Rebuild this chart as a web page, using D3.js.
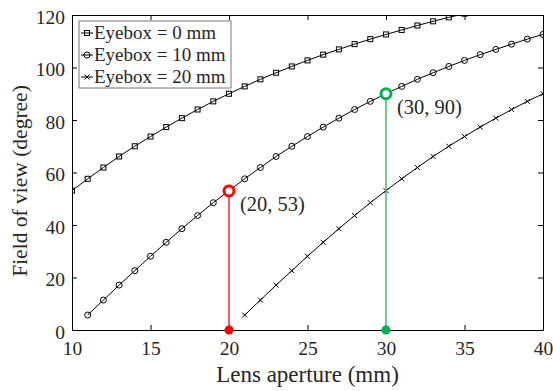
<!DOCTYPE html>
<html>
<head>
<meta charset="utf-8">
<script src="https://cdn.jsdelivr.net/npm/d3@7"></script>
<style>
  body { margin: 0; background: #fff; }
  svg text { font-family: "Liberation Serif", "Times New Roman", Times, serif; fill: #262626; }
</style>
</head>
<body>
<script>
// data
const aperture0 = [10,11,12,13,14,15,16,17,18,19,20,21,22,23,24,25,26,27,28,29,30,31,32,33,34,35]
const fov0 = [53.1,57.6,61.9,66.1,70.0,73.7,77.3,80.7,84.0,87.1,90.0,92.8,95.5,98.0,100.4,102.7,104.9,106.9,108.9,110.8,112.6,114.3,116.0,117.6,119.1,120.5]
const aperture10 = [11,12,13,14,15,16,17,18,19,20,21,22,23,24,25,26,27,28,29,30,31,32,33,34,35,36,37,38,39,40]
const fov10 = [5.7,11.4,17.1,22.6,28.1,33.4,38.6,43.6,48.5,53.1,57.6,61.9,66.1,70.0,73.7,77.3,80.7,84.0,87.1,90.0,92.8,95.5,98.0,100.4,102.7,104.9,106.9,108.9,110.8,112.6]
const aperture20 = [21,22,23,24,25,26,27,28,29,30,31,32,33,34,35,36,37,38,39,40]
const fov20 = [5.7,11.4,17.1,22.6,28.1,33.4,38.6,43.6,48.5,53.1,57.6,61.9,66.1,70.0,73.7,77.3,80.7,84.0,87.1,90.0]
const seriesNames = ["Eyebox = 0 mm", "Eyebox = 10 mm", "Eyebox = 20 mm"]
const xTicks = [10, 15, 20, 25, 30, 35, 40]
const yTicks = [0, 20, 40, 60, 80, 100, 120]
// highlighted points
const highlights = [
    { x: 20, y: 53, label: "(20, 53)", color: "#ff0000", line: "#e8262b" },
    { x: 30, y: 90, label: "(30, 90)", color: "#00b050", line: "#3cc070" }
]

const serif = "'Liberation Serif', 'Times New Roman', serif"
const margin = { top: 15, right: 10, bottom: 61, left: 72 }
const width = 553 - margin.left - margin.right
const height = 391 - margin.top - margin.bottom

const svg = d3.select("body").append("svg")
    .attr("width", 553)
    .attr("height", 391)

const g = svg.append("g")
    .attr("transform", "translate(" + margin.left + "," + margin.top + ")")

const x = d3.scaleLinear().domain([10, 40]).range([0, width])
const y = d3.scaleLinear().domain([0, 120]).range([height, 0])

g.append("clipPath").attr("id", "clip")
    .append("rect").attr("width", width).attr("height", height)

// axes with inward ticks, box on all sides
const tick = 5
g.append("g").attr("class", "axis").attr("transform", "translate(0," + height + ")")
    .call(d3.axisBottom(x).tickValues(xTicks).tickSizeInner(-tick).tickSizeOuter(0).tickPadding(11))
g.append("g").attr("class", "axis yaxis")
    .call(d3.axisLeft(y).tickValues(yTicks).tickSizeInner(-tick).tickSizeOuter(0).tickPadding(7))
g.append("g").attr("class", "axis")
    .call(d3.axisTop(x).tickValues(xTicks).tickSizeInner(-tick).tickSizeOuter(0).tickFormat(""))
g.append("g").attr("class", "axis").attr("transform", "translate(" + width + ",0)")
    .call(d3.axisRight(y).tickValues(yTicks).tickSizeInner(-tick).tickSizeOuter(0).tickFormat(""))

g.selectAll(".axis").attr("font-family", serif).attr("font-size", 19.5)
g.selectAll(".domain").attr("stroke", "#000").attr("stroke-width", 1)
g.selectAll(".tick line").attr("stroke", "#000")
g.selectAll(".tick text")
    .attr("font-family", serif)
    .attr("fill", "#262626")
g.selectAll(".yaxis .tick text").attr("dy", "0.42em")

const line = d3.line().x(d => x(d[0])).y(d => y(d[1]))

const series = [
    d3.zip(aperture0, fov0),
    d3.zip(aperture10, fov10),
    d3.zip(aperture20, fov20)
]

const plot = g.append("g").attr("clip-path", "url(#clip)")

function drawMarker(sel, type, size) {
    if (type === 0) {
        sel.append("rect").attr("x", -size).attr("y", -size)
            .attr("width", size * 2).attr("height", size * 2)
            .attr("fill", "none").attr("stroke", "#000").attr("stroke-width", 1)
    } else if (type === 1) {
        sel.append("circle").attr("r", size + 0.5)
            .attr("fill", "none").attr("stroke", "#000").attr("stroke-width", 1)
    } else {
        sel.append("path")
            .attr("d", "M" + -size + "," + -size + "L" + size + "," + size + "M" + -size + "," + size + "L" + size + "," + -size)
            .attr("stroke", "#000").attr("stroke-width", 1)
    }
}

series.forEach((data, i) => {
    plot.append("path")
        .datum(data)
        .attr("fill", "none")
        .attr("stroke", "#000")
        .attr("stroke-width", 1)
        .attr("d", line)
    plot.selectAll(".m" + i)
        .data(data)
        .enter()
        .append("g")
        .attr("class", "m" + i)
        .attr("transform", d => "translate(" + x(d[0]) + "," + y(d[1]) + ")")
        .each(function () { drawMarker(d3.select(this), i, 2.5) })
})

// highlight lines and points
highlights.forEach(h => {
    g.append("line")
        .attr("x1", x(h.x)).attr("x2", x(h.x))
        .attr("y1", y(0)).attr("y2", y(h.y))
        .attr("stroke", h.line).attr("stroke-width", 1.5)
    g.append("circle")
        .attr("cx", x(h.x)).attr("cy", y(0)).attr("r", 4.5)
        .attr("fill", h.color)
    g.append("circle")
        .attr("cx", x(h.x)).attr("cy", y(h.y)).attr("r", 5)
        .attr("fill", "#fff").attr("stroke", h.color).attr("stroke-width", 3)
    g.append("text")
        .attr("x", x(h.x) + 11)
        .attr("y", y(h.y) + 20)
        .attr("font-family", serif)
        .attr("font-size", 20.5)
        .text(h.label)
})

// legend
const legend = g.append("g").attr("transform", "translate(7,6)")
legend.append("rect")
    .attr("width", 152).attr("height", 67)
    .attr("fill", "#fff").attr("stroke", "#777").attr("stroke-width", 1)
seriesNames.forEach((name, i) => {
    const row = legend.append("g").attr("transform", "translate(0," + (12 + i * 22) + ")")
    row.append("line").attr("x1", 2).attr("x2", 14).attr("stroke", "#000")
    const m = row.append("g").attr("transform", "translate(8,0)")
    drawMarker(m, i, 2.5)
    row.append("text")
        .attr("x", 15).attr("y", 6)
        .attr("font-family", serif)
        .attr("font-size", 19)
        .text(name)
})

// axis titles
svg.append("text")
    .attr("x", margin.left + width / 2)
    .attr("y", 382)
    .attr("text-anchor", "middle")
    .attr("font-family", serif)
    .attr("font-size", 23)
    .text("Lens aperture (mm)")

svg.append("text")
    .attr("transform", "rotate(-90)")
    .attr("x", -181)
    .attr("y", 27)
    .attr("text-anchor", "middle")
    .attr("font-family", serif)
    .attr("font-size", 21.5)
    .text("Field of view (degree)")
</script>
</body>
</html>
